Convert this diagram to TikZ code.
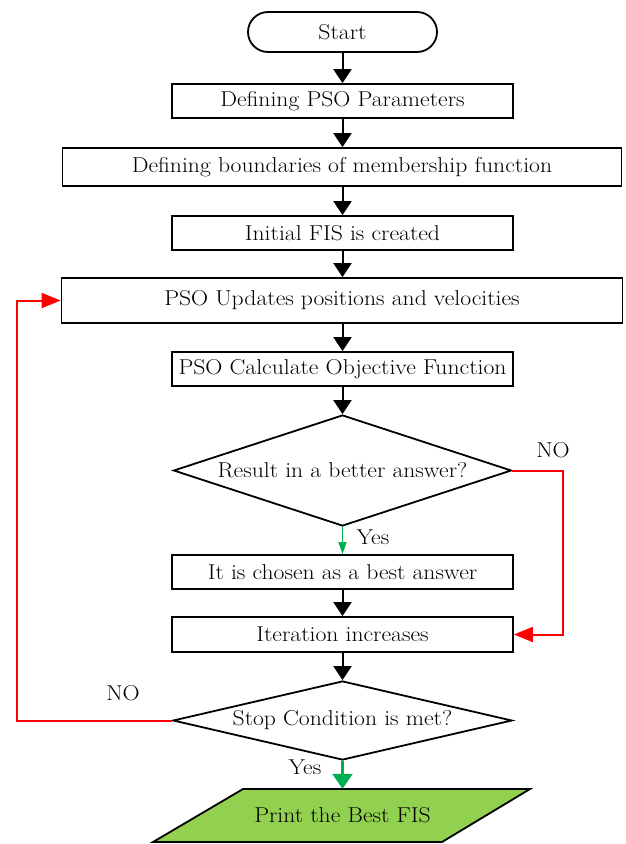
\documentclass[tikz,border=0pt]{standalone}
\usepackage{fontspec}
\setmainfont{Latin Modern Roman}[FakeStretch=1.1]
\usepackage{tikz}
\usetikzlibrary{arrows.meta}
\usetikzlibrary{shapes.geometric}

\definecolor{yesgreen}{HTML}{00B050}
\definecolor{fisgreen}{HTML}{92D050}

\begin{document}
\begin{tikzpicture}[x=1pt,y=-1pt,>={Triangle[width=18pt,length=14pt]},
  font=\fontsize{21.5}{24}\selectfont,
  proc/.style={draw,line width=1.8pt,inner sep=0pt,minimum width=341pt,minimum height=34pt},
  startstop/.style={proc,rounded corners=20pt,minimum width=189pt,minimum height=40pt},
  decision/.style={draw,diamond,line width=1.8pt,inner sep=0pt},
  io/.style={inner sep=0pt,minimum height=53pt},
  flow/.style={->,line width=2pt},
  nobranch/.style={->,red,line width=2pt,>={Triangle[width=15pt,length=19pt]}},
  yesbranch/.style={->,yesgreen}]
  \useasboundingbox (0,0) rectangle (625,844);

  \node[startstop] (start) at (342.5,32)    {Start};
  \node[proc]      (par)   at (342.5,101)   {Defining PSO Parameters};
  \node[proc,minimum width=559pt,minimum height=38pt]
                   (bnd)   at (342,167)     {Defining boundaries of membership function};
  \node[proc]      (ini)   at (342.5,233)   {Initial FIS is created};
  \node[proc,minimum width=561pt,minimum height=45pt]
                   (upd)   at (342,300.5)   {PSO Updates positions and velocities};
  \node[proc]      (calc)  at (342.5,369)   {PSO Calculate Objective Function};
  \node[decision,aspect=3,minimum width=338pt,minimum height=111pt,inner sep=-4pt]
                   (dia1)  at (342.5,470.5) {Result in a better answer?};
  \node[proc]      (cho)   at (342.5,572)   {It is chosen as a best answer};
  \node[proc,minimum height=35pt]
                   (itr)   at (342.5,634.5) {Iteration increases};
  \node[decision,aspect=4.3,minimum width=339pt,minimum height=79pt,inner sep=-4pt]
                   (dia2)  at (342.5,720.5) {Stop Condition is met?};

  % parallelogram for the output
  \draw[fill=fisgreen,line width=1.8pt] (243,789) -- (530,789) -- (442,842) -- (153,842) -- cycle;
  \node[io]        (prt)   at (342.5,815.5) {Print the Best FIS};

  \coordinate (r1) at (563,470.5);
  \coordinate (l1) at (17,720.5);

  \draw[flow] (start) -- (par);
  \draw[flow] (par)   -- (par |- bnd.north);
  \draw[flow] (par |- bnd.south) -- (ini);
  \draw[flow] (ini)   -- (ini |- upd.north);
  \draw[flow] (calc |- upd.south) -- (calc);
  \draw[flow] (calc)  -- (dia1);
  \draw[flow] (cho)   -- (itr);
  \draw[flow] (itr)   -- (dia2);

  \draw[yesbranch,line width=1.5pt,>={Triangle[width=8pt,length=12pt]}] (dia1.south) -- (cho.north);
  \draw[yesbranch,line width=2.5pt,>={Triangle[width=20pt,length=15pt]}] (dia2.south) -- (prt.north);

  \draw[nobranch] (dia1.east) -- (r1) |- (itr.east);
  \draw[nobranch] (dia2.west) -- (l1) |- (upd.west);

  \node (no1)  at (553,450) {NO};
  \node (yes1) at (373,537) {Yes};
  \node (no2)  at (123,693) {NO};
  \node (yes2) at (305,767) {Yes};
\end{tikzpicture}
\end{document}
